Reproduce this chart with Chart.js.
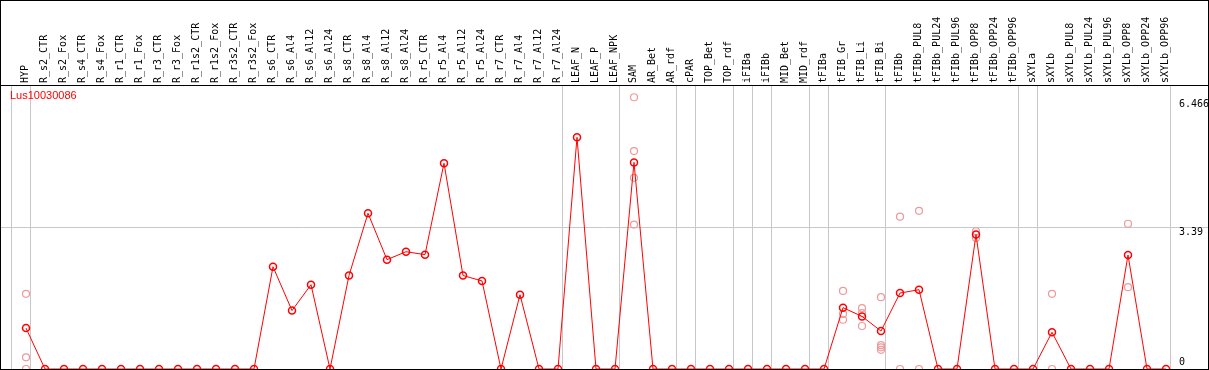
<!DOCTYPE html>
<html>
<head>
<meta charset="utf-8">
<script src="https://cdn.jsdelivr.net/npm/chart.js@4.4.1/dist/chart.umd.min.js"></script>
<style>
  html, body { margin: 0; padding: 0; background: #fff; }
  #frame { width: 1209px; height: 370px; border: 1px solid #000; box-sizing: border-box; }
  canvas { display: block; }
</style>
</head>
<body>
<div id="frame"><canvas id="chart" width="1207" height="368"></canvas></div>
<script>
  const geneName = "Lus10030086";

  const categories = [
    "HYP", "R_s2_CTR", "R_s2_Fox", "R_s4_CTR", "R_s4_Fox", "R_r1_CTR", "R_r1_Fox",
    "R_r3_CTR", "R_r3_Fox", "R_r1s2_CTR", "R_r1s2_Fox", "R_r3s2_CTR", "R_r3s2_Fox",
    "R_s6_CTR", "R_s6_Al4", "R_s6_Al12", "R_s6_Al24", "R_s8_CTR", "R_s8_Al4",
    "R_s8_Al12", "R_s8_Al24", "R_r5_CTR", "R_r5_Al4", "R_r5_Al12", "R_r5_Al24",
    "R_r7_CTR", "R_r7_Al4", "R_r7_Al12", "R_r7_Al24", "LEAF_N", "LEAF_P", "LEAF_NPK",
    "SAM", "AR_Bet", "AR_rdf", "cPAR", "TOP_Bet", "TOP_rdf", "iFIBa", "iFIBb",
    "MID_Bet", "MID_rdf", "tFIBa", "tFIB_Gr", "tFIB_Li", "tFIB_Bi", "tFIBb",
    "tFIBb_PUL8", "tFIBb_PUL24", "tFIBb_PUL96", "tFIBb_OPP8", "tFIBb_OPP24", "tFIBb_OPP96",
    "sXYLa", "sXYLb", "sXYLb_PUL8", "sXYLb_PUL24", "sXYLb_PUL96", "sXYLb_OPP8",
    "sXYLb_OPP24", "sXYLb_OPP96"
  ];

  // mean expression per sample (connected line)
  const meanValues = [
    0.98, 0, 0, 0, 0, 0, 0, 0, 0, 0, 0, 0, 0,
    2.45, 1.40, 2.02, 0, 2.24, 3.73, 2.62, 2.81, 2.74, 4.93, 2.24, 2.11,
    0, 1.78, 0, 0, 5.55, 0, 0,
    4.95, 0, 0, 0, 0, 0, 0, 0, 0, 0, 0,
    1.47, 1.26, 0.91, 1.82, 1.90, 0, 0, 3.22, 0, 0,
    0, 0.88, 0, 0, 0, 2.73, 0, 0
  ];

  // individual replicates (pale circles)
  const repSamples = [
    "HYP", "HYP", "HYP",
    "SAM", "SAM", "SAM", "SAM",
    "tFIB_Gr", "tFIB_Gr", "tFIB_Gr",
    "tFIB_Li", "tFIB_Li", "tFIB_Li",
    "tFIB_Bi", "tFIB_Bi", "tFIB_Bi", "tFIB_Bi",
    "tFIBb", "tFIBb",
    "tFIBb_PUL8", "tFIBb_PUL8",
    "tFIBb_OPP8", "tFIBb_OPP8",
    "sXYLb", "sXYLb",
    "sXYLb_OPP8", "sXYLb_OPP8"
  ];
  const repValues = [
    1.80, 0.28, 0,
    6.51, 5.22, 4.58, 3.46,
    1.87, 1.32, 1.18,
    1.46, 1.34, 1.03,
    1.72, 0.57, 0.52, 0.46,
    3.65, 0,
    3.79, 0,
    3.30, 3.14,
    1.80, 0,
    3.48, 1.96
  ];

  // last sample of each group; a separator is drawn just after it
  const groupEnds = [-1, 0, 28, 31, 34, 35, 37, 38, 39, 41, 42, 45, 52, 53, 60];
  const yTicks = [3.39, 6.466];
  const yBaseTick = [0];

  const X_MIN = -1.316;
  const X_MAX = 62.21;
  const Y_MAX = 6.804;
  const SEP_SHIFT = 0.237;

  const gridGray = "#c8c8c8";
  const lineRed = "#ff0000";
  const repPink = "#ee9a9a";
  const monoFont = { family: "'DejaVu Sans Mono', monospace", size: 10 };

  const meanData = meanValues.map((v, i) => ({ x: i, y: v }));
  const repData = repValues.map((v, i) => ({ x: categories.indexOf(repSamples[i]), y: v }));

  function noPad(s) {
    s.paddingLeft = 0;
    s.paddingRight = 0;
    s.paddingTop = 0;
    s.paddingBottom = 0;
  }

  const geneLabel = {
    id: "geneLabel",
    afterDraw(chart) {
      const { ctx, chartArea } = chart;
      ctx.save();
      ctx.font = "11px 'Liberation Sans', Arial, sans-serif";
      ctx.fillStyle = lineRed;
      ctx.textBaseline = "alphabetic";
      ctx.fillText(geneName, chartArea.left + 9, chartArea.top + 14);
      ctx.restore();
    },
  };

  new Chart(document.getElementById("chart").getContext("2d"), {
    type: "line",
    data: {
      datasets: [
        {
          label: geneName,
          data: meanData,
          borderColor: lineRed,
          borderWidth: 1,
          pointRadius: 3.5,
          pointBorderWidth: 1.5,
          pointBorderColor: lineRed,
          pointBackgroundColor: "rgba(0,0,0,0)",
          tension: 0,
          clip: false,
        },
        {
          label: "replicates",
          data: repData,
          showLine: false,
          pointRadius: 3.5,
          pointBorderWidth: 1.2,
          pointBorderColor: repPink,
          pointBackgroundColor: "rgba(0,0,0,0)",
          clip: false,
        },
      ],
    },
    options: {
      responsive: false,
      animation: false,
      devicePixelRatio: 1,
      layout: { padding: 0, autoPadding: false },
      plugins: { legend: { display: false }, tooltip: { enabled: false } },
      scales: {
        x: {
          type: "linear",
          position: "top",
          min: X_MIN,
          max: X_MAX,
          afterBuildTicks: (s) => { s.ticks = categories.map((_, i) => ({ value: i })); },
          afterFit: (s) => { s.height = 84; noPad(s); },
          ticks: {
            autoSkip: false,
            minRotation: 90,
            maxRotation: 90,
            padding: 2,
            labelOffset: 11,
            color: "#000",
            font: monoFont,
            callback: (v) => categories[v],
          },
          grid: { display: false, drawTicks: false },
          border: { display: true, color: "#000", width: 1 },
        },
        xg: {
          type: "linear",
          position: "bottom",
          min: X_MIN,
          max: X_MAX,
          afterBuildTicks: (s) => { s.ticks = groupEnds.map((g) => ({ value: g + SEP_SHIFT })); },
          afterFit: (s) => { s.height = 0; noPad(s); },
          ticks: { display: false },
          grid: { color: gridGray, lineWidth: 1, drawTicks: false },
          border: { display: false },
        },
        y: {
          position: "right",
          min: 0,
          max: Y_MAX,
          afterBuildTicks: (s) => { s.ticks = yTicks.map((v) => ({ value: v })); },
          afterFit: (s) => { s.width = 0; noPad(s); },
          ticks: {
            mirror: true,
            crossAlign: "far",
            padding: 1,
            labelOffset: 5,
            color: "#000",
            font: monoFont,
            callback: (v) => String(v),
          },
          grid: {
            drawTicks: false,
            color: (c) => (c.tick && c.tick.value === 3.39 ? gridGray : "rgba(0,0,0,0)"),
          },
          border: { display: false },
        },
        y0: {
          position: "right",
          min: 0,
          max: Y_MAX,
          afterBuildTicks: (s) => { s.ticks = yBaseTick.map((v) => ({ value: v })); },
          afterFit: (s) => { s.width = 0; noPad(s); },
          ticks: {
            mirror: true,
            crossAlign: "far",
            padding: -23,
            labelOffset: -7,
            color: "#000",
            font: monoFont,
            callback: (v) => String(v),
          },
          grid: { display: false, drawTicks: false },
          border: { display: false },
        },
      },
    },
    plugins: [geneLabel],
  });
</script>
</body>
</html>
